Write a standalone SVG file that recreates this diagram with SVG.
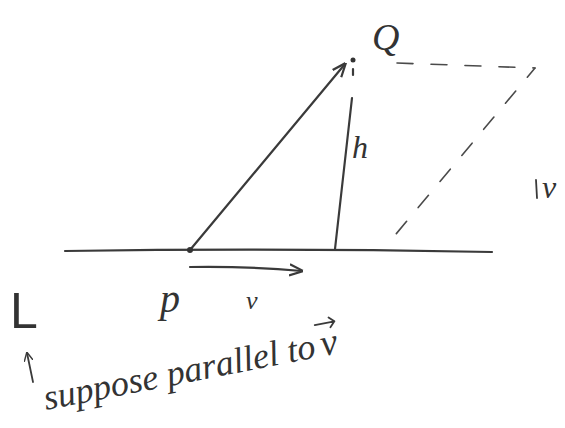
<svg xmlns="http://www.w3.org/2000/svg" width="565" height="428" viewBox="0 0 565 428">
<style>
.ink{fill:none;stroke:#3a3a3a;stroke-width:2.2;stroke-linecap:round;stroke-linejoin:round}
.thin{fill:none;stroke:#3a3a3a;stroke-width:1.8;stroke-linecap:round;stroke-linejoin:round}
.dash{fill:none;stroke:#4a4a4a;stroke-width:1.6;stroke-linecap:round;stroke-dasharray:16 18}
.lbl{font-family:"Liberation Serif",serif;font-style:italic;fill:#333}
</style>
<defs>
<marker id="ah" viewBox="0 0 10 10" refX="9" refY="5" markerWidth="9" markerHeight="9" markerUnits="userSpaceOnUse" orient="auto">
<path d="M0,0 L10,5 L0,10" fill="none" stroke="#3a3a3a" stroke-width="1.6"/>
</marker>
<marker id="ah2" viewBox="0 0 10 10" refX="9" refY="5" markerWidth="14" markerHeight="14" markerUnits="userSpaceOnUse" orient="auto">
<path d="M0,1 L10,5 L0,9" fill="none" stroke="#3a3a3a" stroke-width="1.6"/>
</marker>
</defs>
<rect width="565" height="428" fill="#fff"/>
<g id="connectors">
<path id="line-L" class="ink" d="M65,251 Q280,248 492,252"/>
<path id="PQ" class="ink" d="M190,250 L345,64" marker-end="url(#ah2)"/>
<path id="height" class="ink" d="M352,98 L335,249"/>
<path id="dash-top" class="dash" d="M397,63 L535,68"/>
<path id="dash-diag" class="dash" stroke-dashoffset="4" d="M535,68 L386,246"/>
<path id="v-arrow" class="ink" d="M190,267 Q245,266 302,271" marker-end="url(#ah2)"/>
<path id="note-arrow" class="thin" d="M33,382 L27,353" marker-end="url(#ah)"/>
</g>
<g id="Q">
<circle cx="353" cy="60" r="2.5" fill="#333"/>
<path class="ink" d="M353,69 L353,75"/>
<text class="lbl" x="372" y="50" font-size="38">Q</text>
</g>
<g id="P">
<circle cx="190" cy="250" r="3" fill="#333"/>
<text class="lbl" x="160" y="312" font-size="40">p</text>
</g>
<g id="h-label"><text class="lbl" x="352" y="158" font-size="32">h</text></g>
<g id="v-label"><text class="lbl" x="246" y="309" font-size="26">v</text></g>
<g id="L-label"><text x="10" y="328" font-size="50" style="font-family:'Liberation Sans',sans-serif;font-weight:300;fill:#333">L</text></g>
<g id="v-right">
<path class="thin" d="M536,180 L537,198"/>
<text class="lbl" x="542" y="198" font-size="32">v</text>
</g>
<g id="note" transform="rotate(-11 46 410)">
<text class="lbl" x="46" y="410" font-size="36">suppose parallel to</text>
<text class="lbl" x="328" y="410" font-size="38">v</text>
<path class="thin" d="M326,378 L346,378 M341,373 L346,378 L341,383"/>
</g>
</svg>
